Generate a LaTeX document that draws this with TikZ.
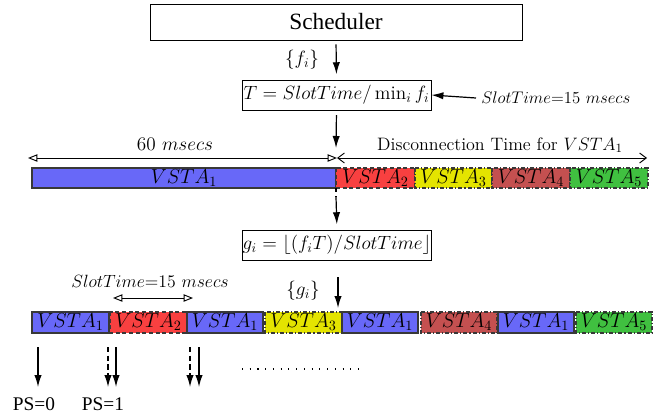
\RequirePackage{fix-cm}
\documentclass[tikz,border=0pt]{standalone}
\usepackage{fontspec}
\newfontfamily\tms{Liberation Serif}
\usetikzlibrary{arrows.meta}
\definecolor{vblue}{HTML}{6868F8}
\definecolor{vred}{HTML}{F84040}
\definecolor{vyel}{HTML}{E4E400}
\definecolor{vbrown}{HTML}{C45050}
\definecolor{vgreen}{HTML}{40C040}
\definecolor{edge}{HTML}{383838}
\begin{document}
\begin{tikzpicture}[x=0.75pt,y=-0.75pt,
  font=\fontsize{14.4}{17}\selectfont,
  box/.style={draw, line width=0.6pt, inner sep=0pt},
  lab/.style={inner sep=0pt},
  vsta/.style={inner sep=0pt, font=\fontsize{15.2}{18}\selectfont},
  sl/.style={draw=edge, line width=0.8pt},
  sdash/.style={sl, dash pattern=on 3pt off 2pt},
  sdot/.style={sl, dash pattern=on 3pt off 1.5pt on 0.8pt off 1.5pt},
  main/.style={line width=0.9pt, -{Latex[length=9pt,width=5.5pt]}},
  dbl/.style={line width=0.7pt, {Triangle[open,length=7pt,width=5.5pt]}-{Triangle[open,length=7pt,width=5.5pt]}},
  barb/.style={line width=0.7pt, {Straight Barb[length=5pt,width=7.5pt]}-{Straight Barb[length=5pt,width=7.5pt]}},
  tms/.style={font=\tms\fontsize{14.5}{17}\selectfont}]
\useasboundingbox (0,0) rectangle (667,418);

% boxes
\node[box, font=\tms\fontsize{17.5}{19}\selectfont, minimum width={372*0.75pt}, minimum height={36*0.75pt}] (sched) at (336,22) {Scheduler};
\node[box, minimum width={189*0.75pt}, minimum height={30*0.75pt}] (tbox) at (336.5,95) {$T=SlotTime/\min_i f_i$};
\node[box, minimum width={188*0.75pt}, minimum height={30*0.75pt}] (gbox) at (337,245) {$g_i=\lfloor (f_iT)/SlotTime\rfloor$};

% labels
\node[lab] (fl) at (302,60) {$\{f_i\}$};
\node[lab, font=\fontsize{12.6}{15}\selectfont, anchor=west] (stl) at (481,98) {$SlotTime{=}15\ msecs$};
\node[lab, anchor=base] (sixty) at (175,150) {60 $msecs$};
\node[lab, font=\fontsize{13.5}{16}\selectfont, anchor=base] (disc) at (500,150) {Disconnection Time for $VSTA_1$};
\node[lab, font=\fontsize{13.3}{15}\selectfont, anchor=base] (stl2) at (150,287) {$SlotTime{=}15\ msecs$};
\node[lab] (gl) at (303,291) {$\{g_i\}$};

% first bar
\draw[sl, fill=vblue] (32,168) rectangle node[vsta] (a1) {$VSTA_1$} (336,188);
\draw[sdash, fill=vred] (336,168) rectangle node[vsta] (a2) {$VSTA_2$} (415,188);
\draw[sdot, fill=vyel] (415,168) rectangle node[vsta] (a3) {$VSTA_3$} (492,188);
\draw[sdot, fill=vbrown] (492,168) rectangle node[vsta] (a4) {$VSTA_4$} (570,188);
\draw[sdot, fill=vgreen] (570,168) rectangle node[vsta] (a5) {$VSTA_5$} (648,188);

% second bar
\draw[sl, fill=vblue] (32,312) rectangle node[vsta] (b1) {$VSTA_1$} (109,333);
\draw[sdash, fill=vred] (110,312) rectangle node[vsta] (b2) {$VSTA_2$} (187,333);
\draw[sl, fill=vblue] (187,312) rectangle node[vsta] (b3) {$VSTA_1$} (263,333);
\draw[sdot, fill=vyel] (265,312) rectangle node[vsta] (b4) {$VSTA_3$} (342,333);
\draw[sl, fill=vblue] (342,312) rectangle node[vsta] (b5) {$VSTA_1$} (418,333);
\draw[sdot, fill=vbrown] (421,312) rectangle node[vsta] (b6) {$VSTA_4$} (497,333);
\draw[sl, fill=vblue] (498,312) rectangle node[vsta] (b7) {$VSTA_1$} (574,333);
\draw[sdot, fill=vgreen] (576,312) rectangle node[vsta] (b8) {$VSTA_5$} (652,333);

% coordinates
\coordinate (c1) at (336,148);
\coordinate (dl) at (28,158);
\coordinate (dm) at (337,158);
\coordinate (dr) at (647,158);
\coordinate (d1) at (336,188);
\coordinate (d2) at (336,197);
\coordinate (c3) at (338,277);
\coordinate (c4) at (338,308);
\coordinate (s1) at (113,298);
\coordinate (s2) at (193,298);
\coordinate (st) at (476,98);

% arrows
\draw[main, shorten <=3pt, shorten >=4pt] (sched.south) -- (tbox.north);
\draw[main] (st) -- (tbox.east);
\draw[main, shorten <=3.5pt] (tbox.south) -- (c1);
\draw[dbl] (dl) -- (dm);
\draw[barb] (dm) -- (dr);
\draw[line width=0.9pt, dashed] (d1) -- (d2);
\draw[main, shorten >=4pt] (d2) -- (gbox.north);
\draw[main] (c3) -- (c4);
\draw[dbl] (s1) -- (s2);

% bottom arrows
\coordinate (p0a) at (38,347);  \coordinate (p0b) at (38,387);
\coordinate (p1a) at (108,347); \coordinate (p1b) at (108,387);
\coordinate (p2a) at (116,347); \coordinate (p2b) at (116,387);
\coordinate (p3a) at (190,347); \coordinate (p3b) at (190,387);
\coordinate (p4a) at (199,347); \coordinate (p4b) at (199,387);
\draw[main] (p0a) -- (p0b);
\draw[main, dash pattern=on 4pt off 2.5pt] (p1a) -- (p1b);
\draw[main] (p2a) -- (p2b);
\draw[main, dash pattern=on 4pt off 2.5pt] (p3a) -- (p3b);
\draw[main] (p4a) -- (p4b);
\node[lab, tms, anchor=base] (ps0) at (34,410) {PS=0};
\node[lab, tms, anchor=base] (ps1) at (103,410) {PS=1};
\coordinate (q1) at (242,369);
\coordinate (q2) at (360,369);
\draw[line width=0.8pt, dash pattern=on 0.8pt off 5pt] (q1) -- (q2);
\end{tikzpicture}
\end{document}
